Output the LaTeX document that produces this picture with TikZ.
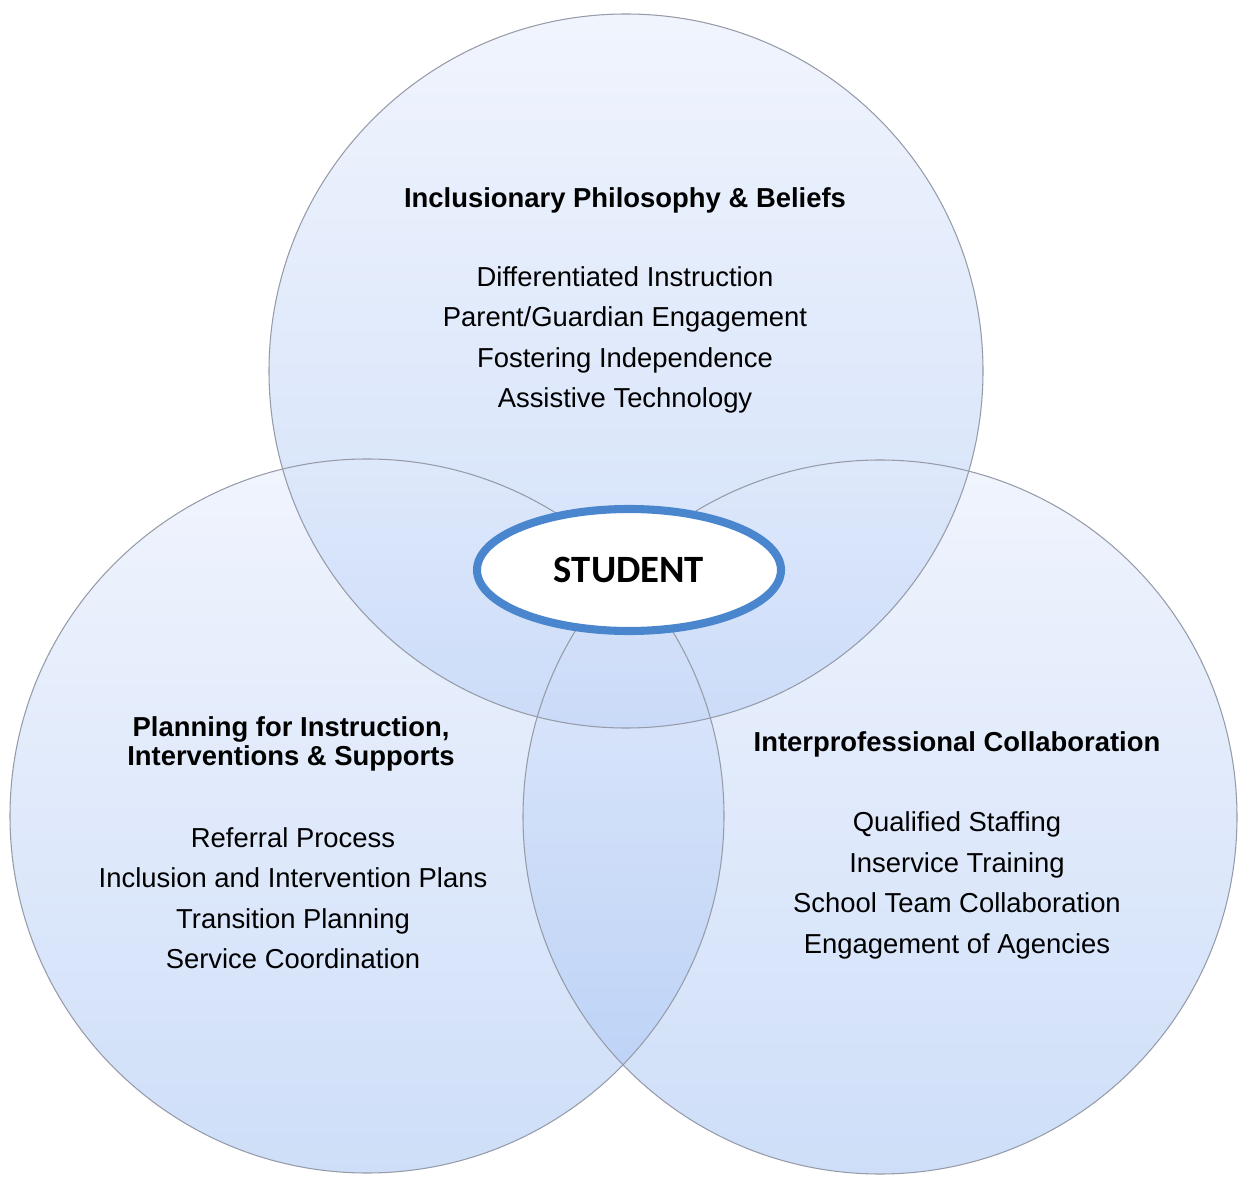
\documentclass[tikz,border=0pt]{standalone}
\usepackage{fontspec}
\setmainfont{Liberation Sans}
\newfontfamily\studentfont{Carlito}
\usepackage{tikz}
\usetikzlibrary{shapes.geometric}
\definecolor{ringblue}{RGB}{74,134,206}
\definecolor{circtop}{RGB}{226,234,252}
\definecolor{circbot}{RGB}{158,190,242}
\definecolor{rimgray}{RGB}{150,155,168}
\tikzstyle{ringfill} = [top color=circtop, bottom color=circbot, fill opacity=0.5]
\tikzstyle{ringrim} = [draw=rimgray, line width=0.3pt]
\tikzstyle{headtext} = [font=\fontsize{7.8}{8.25}\selectfont\bfseries, align=center, inner sep=0pt]
\tikzstyle{itemtext} = [font=\fontsize{7.8}{11.5}\selectfont, align=center, inner sep=0pt]

\begin{document}
\begin{tikzpicture}[scale=1]
  \def\xtop{6.26,8.06}
  \def\xleft{3.67,3.61}
  \def\xright{8.80,3.60}
  \def\rad{3.57}
  \useasboundingbox (0,0) rectangle (12.38,11.77);
  \shade[ringfill] (\xtop) circle (\rad);
  \shade[ringfill] (\xleft) circle (\rad);
  \shade[ringfill] (\xright) circle (\rad);
  \draw[ringrim] (\xtop) circle (\rad);
  \draw[ringrim] (\xleft) circle (\rad);
  \draw[ringrim] (\xright) circle (\rad);
  % centre of the three rings
  \node[ellipse, draw=ringblue, line width=2.3pt, fill=white, minimum width=3.04cm, minimum height=1.22cm, inner sep=0pt] (student) at (6.29,6.07) {\studentfont\bfseries\fontsize{11}{13}\selectfont STUDENT};
  \node[headtext] (philhead) at (6.25,9.77) {Inclusionary Philosophy \& Beliefs};
  \node[itemtext] (philitems) at (6.25,8.37) {Differentiated Instruction\\ Parent/Guardian Engagement\\ Fostering Independence\\ Assistive Technology};
  \node[headtext] (planhead) at (2.91,4.33) {Planning for Instruction,\\ Interventions \& Supports};
  \node[itemtext] (planitems) at (2.93,2.79) {Referral Process\\ Inclusion and Intervention Plans\\ Transition Planning\\ Service Coordination};
  \node[headtext] (collhead) at (9.57,4.33) {Interprofessional Collaboration};
  \node[itemtext] (collitems) at (9.57,2.915) {Qualified Staffing\\ Inservice Training\\ School Team Collaboration\\ Engagement of Agencies};
\end{tikzpicture}
\end{document}
